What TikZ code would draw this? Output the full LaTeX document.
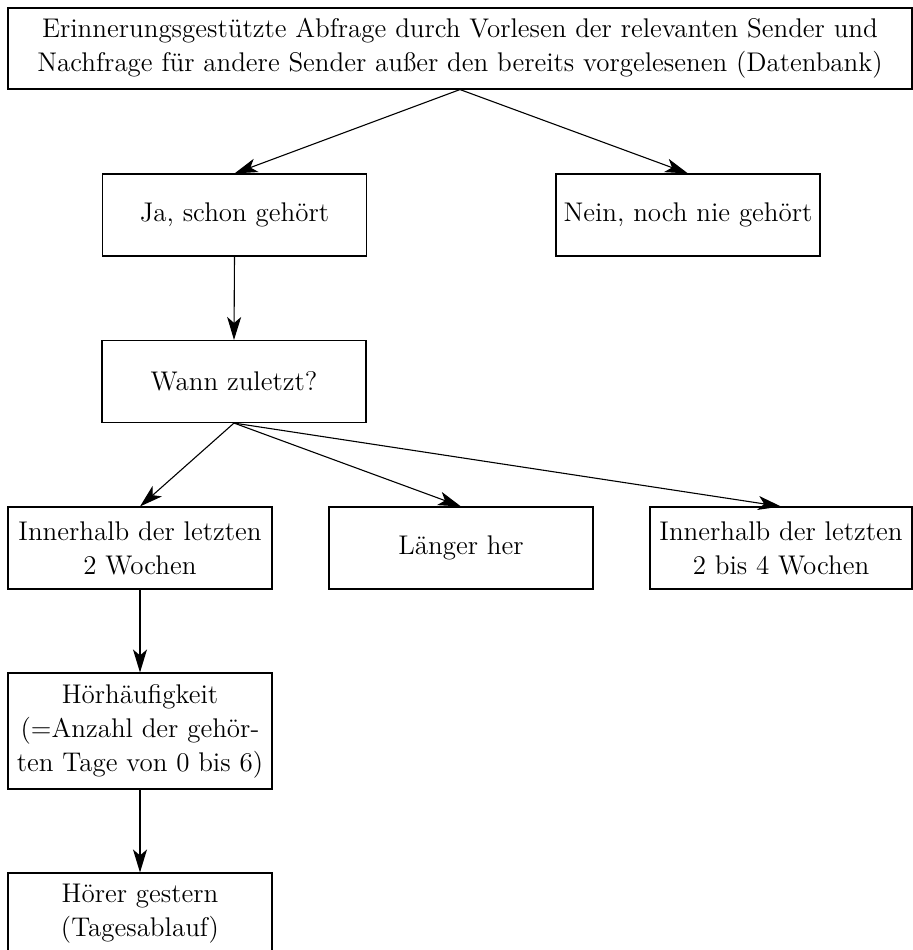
\documentclass[tikz,border=0pt]{standalone}
\usepackage{fontspec}
\usepackage{tikz}
\usetikzlibrary{arrows.meta}
\tikzstyle{feld} = [draw, line width=0.55pt, inner sep=0pt, align=center, minimum width=132pt, minimum height=41pt, font=\fontsize{13.5}{17}\selectfont]
\tikzstyle{pfeil} = [draw, line width=0.55pt, -{Stealth[length=11.5pt,width=7pt,inset=3pt]}]

\begin{document}
\begin{tikzpicture}[x=0.5pt, y=-0.5pt]

	\useasboundingbox (0, 0) rectangle (913, 950);

	% nodes
	\node[feld, minimum width=452pt, minimum height=40.5pt] (A) at (460, 48.5) {Erinnerungsgestützte Abfrage durch Vorlesen der relevanten Sender und\\Nachfrage für andere Sender außer den bereits vorgelesenen (Datenbank)};
	\node[feld] (J) at (234.5, 215) {Ja, schon gehört};
	\node[feld] (N) at (688, 215) {Nein, noch nie gehört};
	\node[feld] (W) at (234, 381.5) {Wann zuletzt?};
	\node[feld] (K) at (140, 548) {Innerhalb der letzten\\2 Wochen};
	\node[feld] (L) at (461, 548) {Länger her};
	\node[feld, minimum width=131pt] (M) at (781, 548) {Innerhalb der letzten\\2 bis 4 Wochen};
	\node[feld, minimum height=58pt] (H) at (140, 731) {Hörhäufigkeit\\(=Anzahl der gehör-\\ten Tage von 0 bis 6)};
	\node[feld] (G) at (140, 914) {Hörer gestern\\(Tagesablauf)};

	% arrows
	\draw [pfeil] (A.south) -- (J.north);
	\draw [pfeil] (A.south) -- (N.north);
	\draw [pfeil] (J.south) -- (W.north);
	\draw [pfeil] (W.south) -- (K.north);
	\draw [pfeil] (W.south) -- (L.north);
	\draw [pfeil] (W.south) -- (M.north);
	\draw [pfeil] (K.south) -- (H.north);
	\draw [pfeil] (H.south) -- (G.north);

\end{tikzpicture}
\end{document}
